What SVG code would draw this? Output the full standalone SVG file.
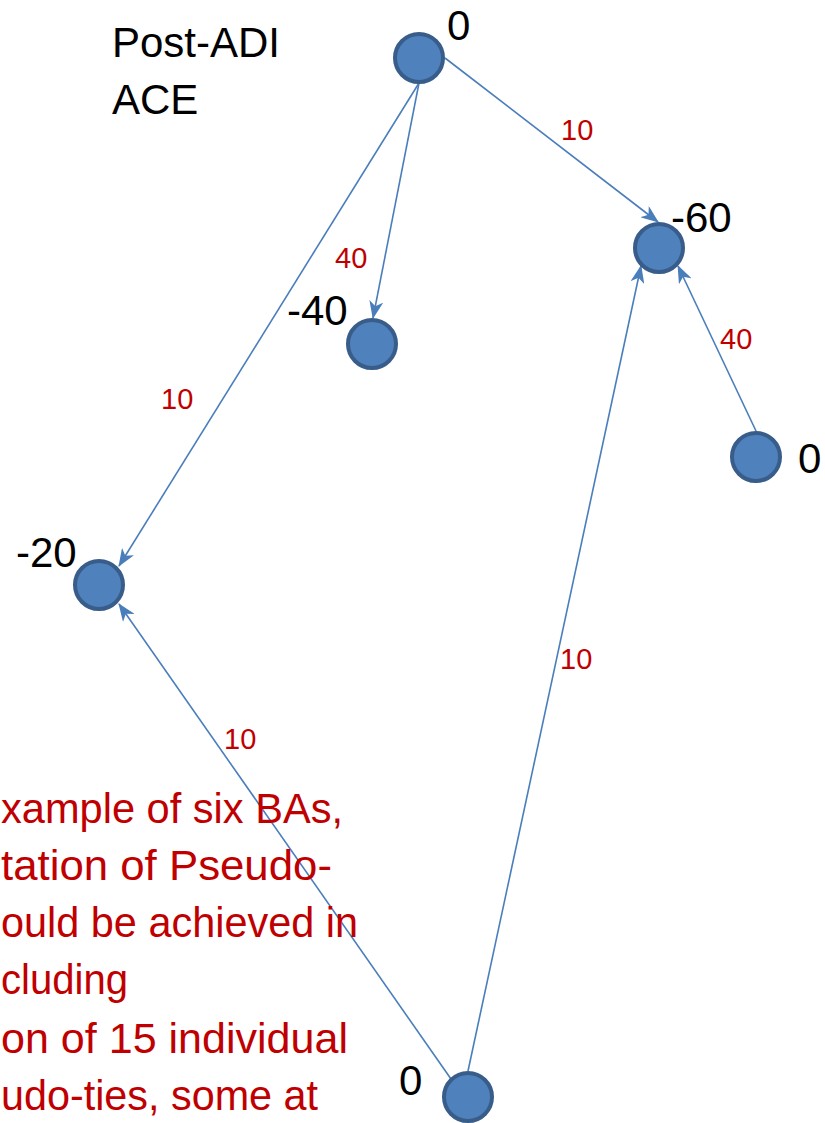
<svg xmlns="http://www.w3.org/2000/svg" width="825" height="1123" viewBox="0 0 825 1123">
<style>
.node{fill:#4F81BD;stroke:#385D8A;stroke-width:4}
.edge{stroke:#4A7EBB;stroke-width:1.6;fill:none;marker-end:url(#arr)}
.lbl{font-family:"Liberation Sans",Arial,sans-serif;font-size:42px;fill:#000}
.w{font-family:"Liberation Sans",Arial,sans-serif;font-size:29px;fill:#C00000}
.note{font-family:"Liberation Sans",Arial,sans-serif;font-size:42px;fill:#C00000}
</style>
<defs>
<marker id="arr" markerWidth="18" markerHeight="14" viewBox="0 0 18 14" refX="17" refY="7" orient="auto" markerUnits="userSpaceOnUse">
<path d="M0,0 L18,7 L0,14 L5,7 z" fill="#4A7EBB"/>
</marker>
</defs>
<g id="title"><text class="lbl" x="112" y="57">Post-ADI</text><text class="lbl" x="112" y="114">ACE</text></g>
<g id="connectors">
<line class="edge" x1="445" y1="58" x2="658" y2="222"/>
<line class="edge" x1="419" y1="83" x2="373" y2="318"/>
<line class="edge" x1="419" y1="83" x2="119" y2="566"/>
<line class="edge" x1="451" y1="1079" x2="119" y2="604"/>
<line class="edge" x1="468" y1="1071" x2="641" y2="266"/>
<line class="edge" x1="756" y1="431" x2="678" y2="266"/>
<text class="w" x="561" y="140">10</text>
<text class="w" x="335" y="268">40</text>
<text class="w" x="161" y="409">10</text>
<text class="w" x="720" y="349">40</text>
<text class="w" x="560" y="669">10</text>
<text class="w" x="224" y="749">10</text>
</g>
<g id="n-top"><circle class="node" cx="419" cy="58" r="24"/><text class="lbl" x="447" y="40">0</text></g>
<g id="n-m60"><circle class="node" cx="659" cy="248" r="24"/><text class="lbl" x="671" y="232">-60</text></g>
<g id="n-m40"><circle class="node" cx="372" cy="344" r="24"/><text class="lbl" x="287" y="325">-40</text></g>
<g id="n-right"><circle class="node" cx="756" cy="457" r="24"/><text class="lbl" x="798" y="473">0</text></g>
<g id="n-m20"><circle class="node" cx="99" cy="585" r="24"/><text class="lbl" x="16" y="567">-20</text></g>
<g id="n-bottom"><circle class="node" cx="468" cy="1097" r="24"/><text class="lbl" x="399" y="1095">0</text></g>
<g id="note">
<text class="note" x="1" y="823" textLength="342" lengthAdjust="spacingAndGlyphs">xample of six BAs,</text>
<text class="note" x="1" y="880" textLength="331" lengthAdjust="spacingAndGlyphs">tation of Pseudo-</text>
<text class="note" x="1" y="937" textLength="357" lengthAdjust="spacingAndGlyphs">ould be achieved in</text>
<text class="note" x="1" y="994" textLength="127" lengthAdjust="spacingAndGlyphs">cluding</text>
<text class="note" x="1" y="1053" textLength="347" lengthAdjust="spacingAndGlyphs">on of 15 individual</text>
<text class="note" x="1" y="1110" textLength="317" lengthAdjust="spacingAndGlyphs">udo-ties, some at</text>
</g>
</svg>
